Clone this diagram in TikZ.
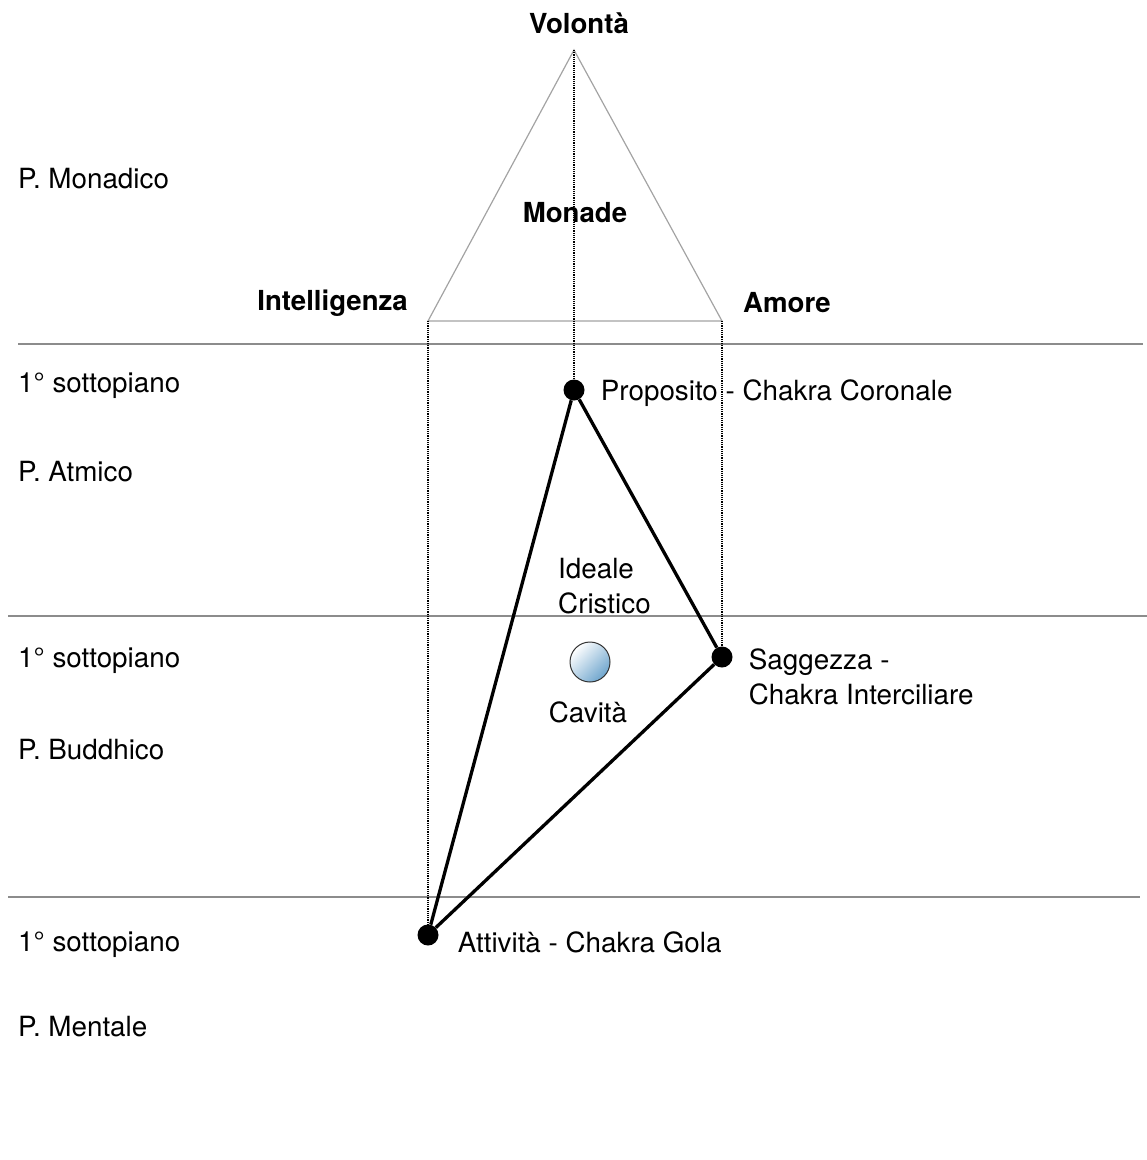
\documentclass[tikz,border=0pt]{standalone}
\usepackage{fontspec}
\setmainfont{TeX Gyre Heros}
\usepackage{tikz}
\usetikzlibrary{positioning}
\definecolor{grigio}{gray}{0.55}
\definecolor{azzurro}{RGB}{110,165,205}
\tikzstyle{piano} = [line width=1.5pt, draw=grigio]
\tikzstyle{monade} = [line width=1.2pt, draw=grigio!80]
\tikzstyle{proiez} = [line width=1.2pt, densely dotted]
\tikzstyle{lato} = [line width=3.3pt, black]
\tikzstyle{chakra} = [circle, fill=black, inner sep=0pt, minimum size=21pt]
\tikzstyle{cav} = [circle, draw=black!80, line width=1pt, inner sep=0pt, minimum size=40pt, top color=white, bottom color=azzurro, shading angle=45]
\tikzstyle{testo} = [inner sep=2pt, font=\fontsize{27.8}{35}\selectfont, align=left]
\tikzstyle{titolo} = [inner sep=2pt, font=\fontsize{27.6}{35}\selectfont\bfseries]

\begin{document}
\begin{tikzpicture}[x=1pt, y=-1pt, node distance=14pt]
		\useasboundingbox (0,0) rectangle (1147,1160);
		% piani
		\draw [piano] (18,344) -- (1143,344);
		\draw [piano] (8,616) -- (1147,616);
		\draw [piano] (8,897) -- (1140,897);
		\node (pmon) [testo, anchor=west] at (16,179) {P. Monadico};
		\node (sp1) [testo, anchor=west] at (16,386) {1° sottopiano};
		\node (patm) [testo, anchor=west] at (16,472) {P. Atmico};
		\node (sp2) [testo, anchor=west] at (16,661) {1° sottopiano};
		\node (pbud) [testo, anchor=west] at (16,750) {P. Buddhico};
		\node (sp3) [testo, anchor=west] at (16,945) {1° sottopiano};
		\node (pment) [testo, anchor=west] at (16,1027) {P. Mentale};
		% monade
		\coordinate (vol) at (574,50);
		\coordinate (int) at (428,321);
		\coordinate (amo) at (722,321);
		\draw [monade] (vol) -- (int) -- (amo) -- cycle;
		\node (volt) [titolo] at (579,23) {Volontà};
		\node (mont) [titolo] at (575,213) {Monade};
		\node (intt) [titolo, anchor=east] at (410,303) {Intelligenza};
		\node (amot) [titolo, anchor=west] at (741,303) {Amore};
		% triade
		\node (pro) [chakra] at (574,390) {};
		\node (sag) [chakra] at (722,657) {};
		\node (att) [chakra] at (428,935) {};
		\draw [proiez] (vol) -- (pro.center);
		\draw [proiez] (int) -- (att.center);
		\draw [proiez] (amo) -- (sag.center);
		\draw [lato] (pro) -- (sag);
		\draw [lato] (sag) -- (att);
		\draw [lato] (att) -- (pro);
		\node (prot) [testo, right=of pro, yshift=-3pt] {Proposito - Chakra Coronale};
		\node (sagt) [testo, right=of sag, yshift=-20pt] {Saggezza -\\Chakra Interciliare};
		\node (attt) [testo, right=of att, xshift=3pt, yshift=-7pt] {Attività - Chakra Gola};
		\node (ideale) [testo, anchor=west] at (556,586) {Ideale\\Cristico};
		\node (cavita) [cav] at (590,662) {};
		\node (cavt) [testo, below=of cavita, yshift=-3pt, xshift=-2pt] {Cavità};
\end{tikzpicture}
\end{document}
